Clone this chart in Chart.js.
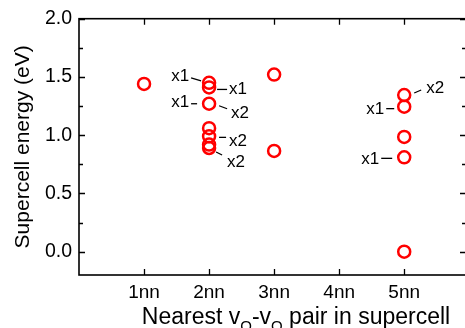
<!DOCTYPE html>
<html>
<head>
<meta charset="utf-8">
<script src="https://cdn.jsdelivr.net/npm/chart.js@4.4.1/dist/chart.umd.min.js"></script>
<style>
  html, body { margin: 0; padding: 0; background: #fff; overflow: hidden; }
  #wrap { width: 480px; height: 328px; }
</style>
</head>
<body>
<div id="wrap"><canvas id="c" width="480" height="328"></canvas></div>
<script>
// ---- data ----
const categories = ['1nn', '2nn', '3nn', '4nn', '5nn'];
const energies1nn = [1.44];
const energies2nn = [1.45, 1.41, 1.27, 1.06, 0.99, 0.92, 0.89];
const energies3nn = [1.52, 0.865];
const energies4nn = [];
const energies5nn = [1.345, 1.245, 0.985, 0.81, 0.0];
const yTickValues = [0.0, 0.5, 1.0, 1.5, 2.0];
const yMinorTickValues = [0.25, 0.75, 1.25, 1.75];
const annotationText = ['x1', 'x1', 'x1', 'x2', 'x2', 'x2', 'x2', 'x1', 'x1'];
const annotationCategory = ['2nn', '2nn', '2nn', '2nn', '2nn', '2nn', '5nn', '5nn', '5nn'];
const annotationValue = [1.45, 1.41, 1.27, 1.27, 0.99, 0.89, 1.345, 1.245, 0.81];

// ---- layout (offsets in px relative to the marked point) ----
const annotationLayout = [
  { side: 'left',  tx: -20, ty: -6, d: [-18, -5, -8, -2] },
  { side: 'right', tx: 20,  ty: 2,  d: [8, 2, 18, 2] },
  { side: 'left',  tx: -20, ty: -1, d: [-18, 0, -12, 0] },
  { side: 'right', tx: 22,  ty: 10, d: [10, 2, 18, 5] },
  { side: 'right', tx: 20,  ty: 5,  d: [10, 1, 17, 1] },
  { side: 'right', tx: 18,  ty: 14, d: [7, 4, 13, 7] },
  { side: 'right', tx: 22,  ty: -7, d: [10, -2, 17, -5] },
  { side: 'left',  tx: -20, ty: 3,  d: [-18, 2, -10, 2] },
  { side: 'left',  tx: -25, ty: 2,  d: [-23, 1, -12, 1] }
];

const seriesByCat = [energies1nn, energies2nn, energies3nn, energies4nn, energies5nn];
const points = [];
seriesByCat.forEach((arr, i) => arr.forEach(v => points.push({ x: i + 1, y: v })));

const FONT = '"Liberation Sans", Arial, sans-serif';
const INK = '#000';

const framePlugin = {
  id: 'frame',
  afterDraw(chart) {
    const ctx = chart.ctx;
    const a = chart.chartArea;
    const xs = chart.scales.x, ys = chart.scales.y;
    ctx.save();
    ctx.strokeStyle = INK;
    ctx.lineWidth = 1.6;
    ctx.strokeRect(a.left, a.top, a.right - a.left, a.bottom - a.top);
    ctx.lineWidth = 1.3;
    ctx.beginPath();
    categories.forEach((c, i) => {
      const px = Math.round(xs.getPixelForValue(i + 1)) + 0.5;
      ctx.moveTo(px, a.bottom); ctx.lineTo(px, a.bottom - 6);
      ctx.moveTo(px, a.top); ctx.lineTo(px, a.top + 6);
    });
    yTickValues.forEach(v => {
      const py = Math.round(ys.getPixelForValue(v)) + 0.5;
      ctx.moveTo(a.left, py); ctx.lineTo(a.left + 6, py);
      ctx.moveTo(a.right, py); ctx.lineTo(a.right - 6, py);
    });
    yMinorTickValues.forEach(v => {
      const py = Math.round(ys.getPixelForValue(v)) + 0.5;
      ctx.moveTo(a.left, py); ctx.lineTo(a.left + 4, py);
      ctx.moveTo(a.right, py); ctx.lineTo(a.right - 4, py);
    });
    ctx.stroke();

    // annotations
    ctx.fillStyle = INK;
    ctx.font = '17px ' + FONT;
    ctx.textBaseline = 'middle';
    ctx.lineWidth = 1.3;
    annotationText.forEach((t, i) => {
      const L = annotationLayout[i];
      const px = xs.getPixelForValue(categories.indexOf(annotationCategory[i]) + 1);
      const py = ys.getPixelForValue(annotationValue[i]);
      ctx.textAlign = L.side === 'left' ? 'right' : 'left';
      ctx.fillText(t, px + L.tx, py + L.ty);
      ctx.beginPath();
      ctx.moveTo(px + L.d[0], py + L.d[1]);
      ctx.lineTo(px + L.d[2], py + L.d[3]);
      ctx.stroke();
    });

    // x axis title with subscripts
    const parts = [
      { t: 'Nearest v', sub: false },
      { t: 'O', sub: true },
      { t: '-v', sub: false },
      { t: 'O', sub: true },
      { t: ' pair in supercell', sub: false }
    ];
    const mainFont = '23px ' + FONT, subFont = '15px ' + FONT;
    let total = 0;
    parts.forEach(p => { ctx.font = p.sub ? subFont : mainFont; total += ctx.measureText(p.t).width; });
    let x = 296 - total / 2;
    const base = 323.5;
    ctx.textAlign = 'left';
    ctx.textBaseline = 'alphabetic';
    parts.forEach(p => {
      ctx.font = p.sub ? subFont : mainFont;
      ctx.fillText(p.t, x, p.sub ? base + 7 : base);
      x += ctx.measureText(p.t).width;
    });
    ctx.restore();
  }
};

new Chart(document.getElementById('c'), {
  type: 'scatter',
  data: {
    datasets: [{
      data: points,
      pointStyle: 'circle',
      pointRadius: 6,
      pointHoverRadius: 6,
      pointBorderWidth: 2.5,
      borderColor: '#ff0000',
      backgroundColor: 'rgba(0,0,0,0)'
    }]
  },
  options: {
    responsive: false,
    animation: false,
    layout: { padding: { top: 15, right: 14, left: 0, bottom: 0 } },
    plugins: { legend: { display: false }, tooltip: { enabled: false } },
    scales: {
      x: {
        type: 'linear',
        min: 0,
        max: 5.95,
        grid: { display: false, drawTicks: false },
        border: { display: false },
        afterBuildTicks: s => { s.ticks = categories.map((c, i) => ({ value: i + 1 })); },
        afterFit: s => { s.height = 53; },
        ticks: {
          padding: 6,
          maxRotation: 0,
          autoSkip: false,
          color: INK,
          font: { family: FONT, size: 19 },
          callback: v => categories[v - 1] || ''
        },
        title: { display: false }
      },
      y: {
        type: 'linear',
        min: -0.2,
        max: 2.0,
        grid: { display: false, drawTicks: false },
        border: { display: false },
        afterBuildTicks: s => { s.ticks = yTickValues.map(v => ({ value: v })); },
        afterFit: s => { s.width = 79; },
        ticks: {
          padding: 7,
          color: INK,
          font: { family: FONT, size: 19.5 },
          callback: v => Number(v).toFixed(1)
        },
        title: {
          display: true,
          text: 'Supercell energy (eV)',
          color: INK,
          font: { family: FONT, size: 21 },
          padding: { top: 11, bottom: 0 }
        }
      }
    }
  },
  plugins: [framePlugin]
});
</script>
</body>
</html>
